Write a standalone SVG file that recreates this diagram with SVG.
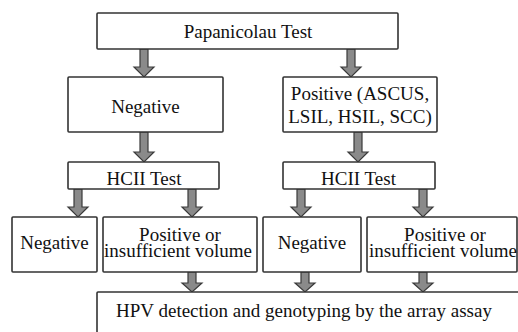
<svg xmlns="http://www.w3.org/2000/svg" width="518" height="332" viewBox="0 0 518 332" font-family="'Liberation Serif', 'DejaVu Serif', 'Times New Roman', serif">
  <style>
    .box { fill: #fff; stroke: #333; stroke-width: 1.6; }
    .arrow { fill: #8a8a8a; stroke: #3a3a3a; stroke-width: 1.2; stroke-linejoin: miter; }
    text { font-size: 19px; fill: #111; text-anchor: middle; }
  </style>
  <rect width="518" height="332" fill="#fff"/>

  <!-- connectors: block arrows between boxes -->
  <g id="connectors">
    <path class="arrow" d="M140 49 V67 H134 L144 77 L154 67 H148 V49 Z"/>
    <path class="arrow" d="M347 49 V67 H341 L351 77 L361 67 H355 V49 Z"/>
    <path class="arrow" d="M140 132 V152 H134 L144 162 L154 152 H148 V132 Z"/>
    <path class="arrow" d="M354 132 V152 H348 L358 162 L368 152 H362 V132 Z"/>
    <path class="arrow" d="M74 189 V207 H68 L78 217 L88 207 H82 V189 Z"/>
    <path class="arrow" d="M188 189 V207 H182 L192 217 L202 207 H196 V189 Z"/>
    <path class="arrow" d="M297 189 V207 H291 L301 217 L311 207 H305 V189 Z"/>
    <path class="arrow" d="M419 189 V207 H413 L423 217 L433 207 H427 V189 Z"/>
    <path class="arrow" d="M188 272 V283 H182 L192 292 L202 283 H196 V272 Z"/>
    <path class="arrow" d="M301 272 V283 H295 L305 292 L315 283 H309 V272 Z"/>
    <path class="arrow" d="M419 272 V283 H413 L423 292 L433 283 H427 V272 Z"/>
  </g>

  <g id="pap-test">
    <rect class="box" x="97" y="13" width="301" height="36" rx="1"/>
    <text x="248" y="38" font-size="18.5">Papanicolau Test</text>
  </g>

  <g id="pap-negative">
    <rect class="box" x="68" y="77" width="155" height="55" rx="1"/>
    <text x="145.5" y="113">Negative</text>
  </g>

  <g id="pap-positive">
    <rect class="box" x="283" y="77" width="154" height="55" rx="1"/>
    <text x="360" y="99.5">Positive (ASCUS,</text>
    <text x="360" y="123">LSIL, HSIL, SCC)</text>
  </g>

  <g id="hcii-left">
    <rect class="box" x="68" y="162" width="151" height="27" rx="1"/>
    <text x="144" y="185">HCII Test</text>
  </g>

  <g id="hcii-right">
    <rect class="box" x="283" y="162" width="152" height="27" rx="1"/>
    <text x="358.5" y="185">HCII Test</text>
  </g>

  <g id="hcii-left-negative">
    <rect class="box" x="12" y="217" width="85" height="55" rx="1"/>
    <text x="54.5" y="249">Negative</text>
  </g>

  <g id="hcii-left-positive">
    <rect class="box" x="103" y="217" width="154" height="55" rx="1"/>
    <text x="180" y="241">Positive or</text>
    <text x="178" y="257">insufficient volume</text>
  </g>

  <g id="hcii-right-negative">
    <rect class="box" x="263" y="217" width="98" height="55" rx="1"/>
    <text x="312" y="249">Negative</text>
  </g>

  <g id="hcii-right-positive">
    <rect class="box" x="367" y="217" width="150" height="55" rx="1"/>
    <text x="445" y="241">Positive or</text>
    <text x="443" y="257">insufficient volume</text>
  </g>

  <g id="array-assay">
    <rect class="box" x="97" y="292" width="430" height="50" rx="1"/>
    <text x="304" y="317" font-size="18.3">HPV detection and genotyping by the array assay</text>
  </g>
</svg>
